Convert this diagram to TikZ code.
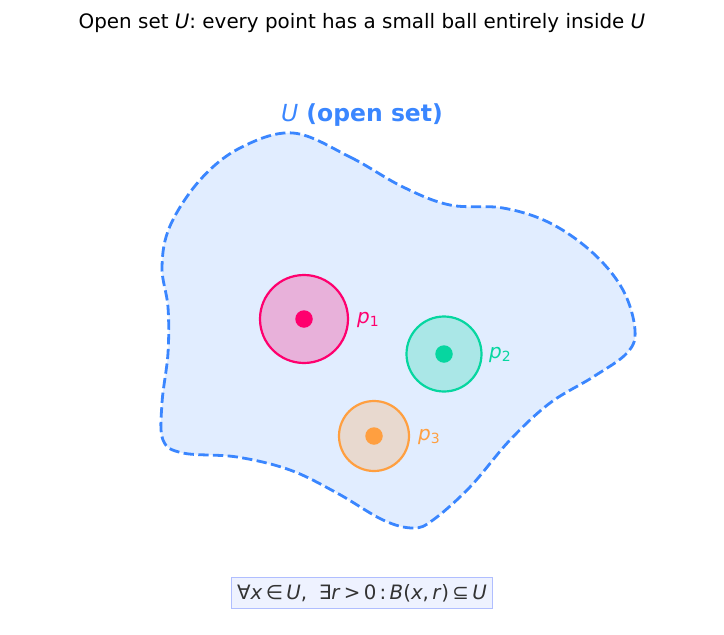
\documentclass[tikz,border=0pt]{standalone}
\usepackage{fontspec}
\setmainfont{DejaVu Sans}
\definecolor{setblue}{HTML}{3A86FF}
\definecolor{ptpink}{HTML}{FF006E}
\definecolor{ptgreen}{HTML}{06D6A0}
\definecolor{ptorange}{HTML}{FF9F40}
\definecolor{boxedge}{HTML}{B0BEFF}
\definecolor{boxfill}{HTML}{EEF2FF}
\tikzset{
  ball/.style={line width=2.2pt, fill opacity=0.25},
  centre/.style={circle, inner sep=0pt, minimum size=17.5pt},
  ptlabel/.style={right, inner sep=0pt, font=\fontsize{20}{24}\selectfont}
}
\begin{document}
\begin{tikzpicture}[x=1pt, y=-1pt]
  \useasboundingbox (0,0) rectangle (724,635);
  \node[font=\fontsize{19.9}{24}\selectfont] (title) at (362,23)
    {Open set \textit{U}: every point has a small ball entirely inside \textit{U}};
  % the open set itself
  \draw[setblue, fill=setblue!15, line width=2.8pt, dash pattern=on 10.3pt off 4.4pt]
    plot[smooth cycle, tension=0.6] coordinates {
      (293,133) (350,157) (403,187) (450,205) (503,208) (550,223) (593,253)
      (623,290) (635,330) (627,353) (593,377) (550,403) (510,440) (470,487)
      (433,520) (413,528) (383,520) (337,493) (290,470) (237,457) (183,453)
      (163,440) (162,403) (168,353) (168,307) (162,267) (170,226) (200,180)
      (240,148)};
  \node[setblue, font=\fontsize{23.5}{28}\selectfont\bfseries] (setname) at (362,115)
    {\textnormal{\textit{U}} (open set)};
  % balls round three points
  \draw[ptpink, fill=ptpink, ball] (304,319) circle (44);
  \draw[ptgreen, fill=ptgreen, ball] (444,354) circle (37.5);
  \draw[ptorange, fill=ptorange, ball] (374,436) circle (35);
  \node[centre, fill=ptpink] (p1) at (304,319) {};
  \node[centre, fill=ptgreen] (p2) at (444,354) {};
  \node[centre, fill=ptorange] (p3) at (374,436) {};
  \node[ptlabel, text=ptpink] (l1) at (357,320) {\textit{p}\textsubscript{1}};
  \node[ptlabel, text=ptgreen] (l2) at (489,355) {\textit{p}\textsubscript{2}};
  \node[ptlabel, text=ptorange] (l3) at (418,437) {\textit{p}\textsubscript{3}};
  % definition
  \node[draw=boxedge, fill=boxfill, line width=1.4pt, text=black!80,
        inner xsep=5.5pt, minimum height=31pt, font=\fontsize{19.8}{24}\selectfont] (defn) at (362,593)
    {∀\textit{x}\,∈\,\textit{U},\; ∃\textit{r}\,>\,0\,:\,\textit{B}(\textit{x},\,\textit{r})\,⊆\,\textit{U}};
\end{tikzpicture}
\end{document}
